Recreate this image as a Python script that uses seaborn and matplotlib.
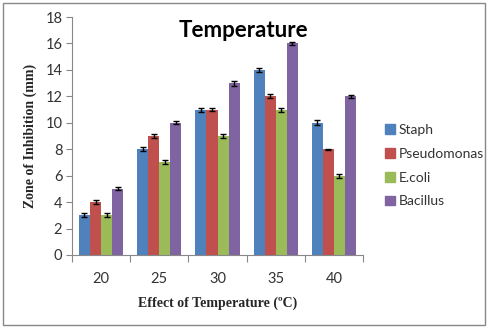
import matplotlib
matplotlib.use("Agg")
import matplotlib.pyplot as plt
import seaborn as sns
import pandas as pd
import numpy as np
from matplotlib.patches import Rectangle

temps = ["20", "25", "30", "35", "40"]
series = ["Staph", "Pseudomonas", "E.coli", "Bacillus"]
staph = [3, 8, 11, 14, 10]
pseudo = [4, 9, 11, 12, 8]
ecoli = [3, 7, 9, 11, 6]
bacillus = [5, 10, 13, 16, 12]
staph_err = [0.15, 0.15, 0.15, 0.12, 0.18]
pseudo_err = [0.15, 0.15, 0.12, 0.15, 0.03]
ecoli_err = [0.15, 0.15, 0.12, 0.15, 0.15]
bacillus_err = [0.12, 0.12, 0.18, 0.08, 0.12]
colors = ["#4F81BD", "#C0504D", "#9BBB59", "#8064A2"]

vals = [staph, pseudo, ecoli, bacillus]
errs = [staph_err, pseudo_err, ecoli_err, bacillus_err]
rows = []
for s, v, e in zip(series, vals, errs):
    for t, vv, ee in zip(temps, v, e):
        rows.append({"Temp": t, "Organism": s, "Value": vv, "Err": ee})
df = pd.DataFrame(rows)

sns.set_style("white")
plt.rcParams['font.family'] = ['Lato', 'DejaVu Sans']

fig = plt.figure(figsize=(4.88, 3.28), dpi=100)
ax = fig.add_axes([0.1475, 0.2226, 0.5965, 0.7254])

sns.barplot(data=df, x="Temp", y="Value", hue="Organism", order=temps,
            hue_order=series, palette=colors, errorbar=None, width=0.76,
            saturation=1, ax=ax, legend=False, edgecolor="none", linewidth=0)

for i, s in enumerate(series):
    cont = ax.containers[i]
    xs = [p.get_x() + p.get_width() / 2 for p in cont.patches]
    ax.errorbar(xs, vals[i], yerr=errs[i], fmt="none", ecolor="black",
                elinewidth=1, capsize=2.5, capthick=1)

ax.set_ylim(0, 18)
ax.set_xlim(-0.5, 4.5)
ax.set_yticks(np.arange(0, 19, 2))
ax.tick_params(axis="y", labelsize=10.5, colors="#888888", length=4, width=0.8,
               left=True, direction="out", pad=3)
ax.tick_params(axis="y", labelcolor="#333333")
ax.set_xticks(range(len(temps)))
ax.set_xticklabels(temps)
ax.tick_params(axis="x", labelsize=10.5, length=0, pad=12, labelcolor="#333333")
ax.set_xticks(np.arange(-0.5, 5, 1), minor=True)
ax.tick_params(axis="x", which="minor", length=5, width=0.8, color="#888888",
               bottom=True, direction="out")
for side in ["top", "right"]:
    ax.spines[side].set_visible(False)
for side in ["left", "bottom"]:
    ax.spines[side].set_color("#888888")
    ax.spines[side].set_linewidth(0.8)

ax.set_xlabel("Effect of Temperature (ºC)", fontfamily="Liberation Serif",
              fontweight="bold", fontsize=10, labelpad=8)
ax.set_ylabel("Zone of Inhibition (mm)", fontfamily="Liberation Serif",
              fontweight="bold", fontsize=10, labelpad=6)

fig.text(0.498, 0.908, "Temperature", ha="center", va="center",
         fontsize=16, fontweight="bold", color="black")

handles = [Rectangle((0, 0), 1, 1, color=c) for c in colors]
fig.legend(handles, series, loc="center left", bbox_to_anchor=(0.789, 0.495),
           frameon=False, fontsize=10, handlelength=0.7, handleheight=0.7,
           handletextpad=0.3, labelspacing=0.85, labelcolor="#333333",
           borderaxespad=0, borderpad=0)

border = Rectangle((0.006, 0.008), 0.988, 0.984, transform=fig.transFigure,
                   fill=False, edgecolor="#888888", linewidth=1)
fig.patches.append(border)

fig.savefig("out.png", dpi=100)
